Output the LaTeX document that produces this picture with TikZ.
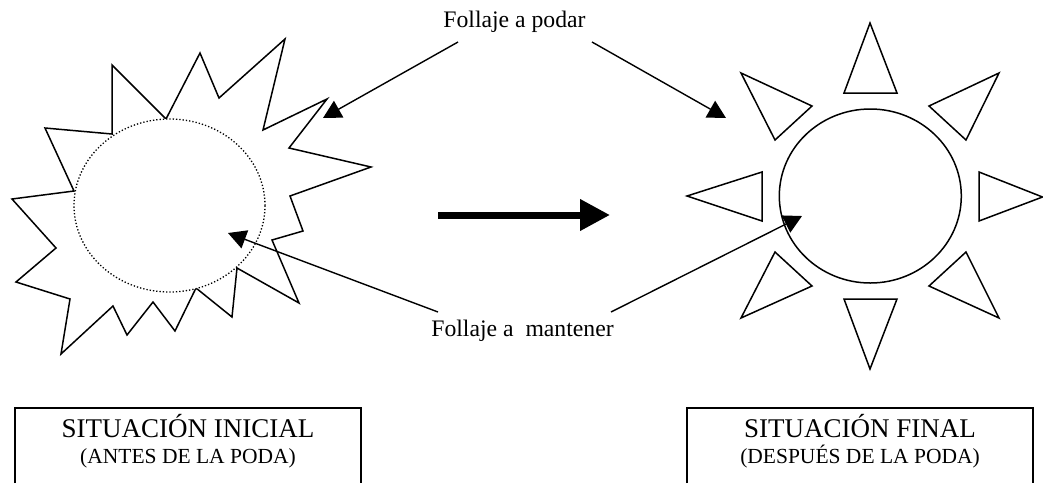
\documentclass[tikz,border=0pt]{standalone}
\usepackage{fontspec}
\setmainfont{Liberation Serif}
\usetikzlibrary{arrows.meta}
\begin{document}
\begin{tikzpicture}[x=1pt,y=-1pt,
  shape line/.style={line width=1.5pt, line join=miter},
  conn/.style={line width=1.4pt, -{Triangle[length=18pt,width=19pt]}},
  lbl/.style={font=\fontsize{23.7}{28}\selectfont, anchor=base, inner sep=0pt},
  ttl/.style={font=\fontsize{27}{30}\selectfont, anchor=base, inner sep=0pt},
  sub/.style={font=\fontsize{21.5}{25}\selectfont, anchor=base, inner sep=0pt},
  box/.style={line width=1.5pt}]
\useasboundingbox (0,0) rectangle (1043,483);
% starburst (initial foliage)
\draw[shape line] (112,65) -- (166,119) -- (200,53) -- (219,98) -- (285,39) -- (263,130)
  -- (327,99) -- (289,148) -- (371,167) -- (290,196) -- (303,231) -- (272,240)
  -- (299,303) -- (237,268) -- (232,317) -- (196,288) -- (175,331) -- (153,302)
  -- (127,335) -- (113,306) -- (61,354) -- (70,299) -- (16,282) -- (56,248)
  -- (12,199) -- (74,191) -- (45,128) -- (112,134) -- cycle;
\fill[white] (169.5,205.5) ellipse [x radius=95.5, y radius=86.5];
\draw[line width=1.3pt, dotted] (169.5,205.5) ellipse [x radius=95.5, y radius=86.5];
% final sun
\draw[shape line] (870.3,196) ellipse [x radius=91, y radius=87];
\draw[shape line] (870,23) -- (844,93) -- (897,93) -- cycle;
\draw[shape line] (999,73) -- (929,106) -- (966,140) -- cycle;
\draw[shape line] (979,172) -- (1042.5,197) -- (979,221) -- cycle;
\draw[shape line] (966,252) -- (929,286) -- (999,318) -- cycle;
\draw[shape line] (844,299) -- (897,299) -- (870,369) -- cycle;
\draw[shape line] (775,252) -- (812,286) -- (741,318) -- cycle;
\draw[shape line] (762,172) -- (762,221) -- (687,196) -- cycle;
\draw[shape line] (741,73) -- (812,106) -- (775,140) -- cycle;
% labels
\node[lbl] (podar) at (514.5,27) {Follaje a podar};
\node[lbl] (mant) at (522.5,336) {Follaje a\ \ mantener};
\coordinate (p1) at (458,42);
\coordinate (p2) at (592,42);
\coordinate (m1) at (438,312);
\coordinate (m2) at (611,312);
\coordinate (pL) at (323,118);
\coordinate (pR) at (726,118);
\coordinate (mL) at (228,233);
\coordinate (mR) at (802,216);
\draw[conn] (p1) -- (pL);
\draw[conn] (p2) -- (pR);
\draw[conn] (m1) -- (mL);
\draw[conn] (m2) -- (mR);
% big arrow
\coordinate (bigA) at (438,215);
\coordinate (bigB) at (610,215);
\draw[line width=7pt, -{Triangle[length=30pt,width=30pt]}] (bigA) -- (bigB);
% boxes
\draw[box] (15,483) -- (15,408) -- (361,408) -- (361,483);
\draw[box] (687,483) -- (687,408) -- (1033,408) -- (1033,483);
\node[ttl] (t1) at (188,437) {SITUACIÓN INICIAL};
\node[sub] (s1) at (188,463) {(ANTES DE LA PODA)};
\node[ttl] (t2) at (860,437) {SITUACIÓN FINAL};
\node[sub] (s2) at (860,463) {(DESPUÉS DE LA PODA)};
\end{tikzpicture}
\end{document}
